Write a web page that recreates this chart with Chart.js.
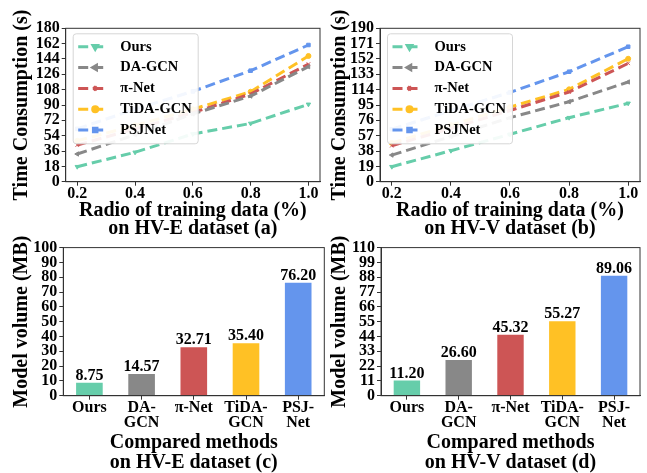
<!DOCTYPE html>
<html>
<head>
<meta charset="utf-8">
<script src="https://cdn.jsdelivr.net/npm/chart.js@4.4.1/dist/chart.umd.min.js"></script>
<style>
  html, body { margin: 0; padding: 0; background: #fff; }
  body { width: 647px; height: 473px; position: relative; overflow: hidden; }
  canvas { position: absolute; }
</style>
</head>
<body>
<canvas id="chartA" width="325" height="240" style="left:0;top:0"></canvas>
<canvas id="chartB" width="322" height="240" style="left:325px;top:0"></canvas>
<canvas id="chartC" width="325" height="237" style="left:0;top:236px"></canvas>
<canvas id="chartD" width="322" height="237" style="left:325px;top:236px"></canvas>
<script>
const methods = ["Ours", "DA-GCN", "π-Net", "TiDA-GCN", "PSJNet"];
const methodTicks = [["Ours"], ["DA-", "GCN"], ["π-Net"], ["TiDA-", "GCN"], ["PSJ-", "Net"]];
const ratios = [0.2, 0.4, 0.6, 0.8, 1.0];

// time consumption (s), HV-E
const timeE_ours = [17.6, 34.5, 56, 68.4, 90.8];
const timeE_dagcn = [32.5, 55, 79.5, 100.5, 135];
const timeE_pinet = [43, 62, 81, 102.9, 138];
const timeE_tida = [48, 66, 85, 105.6, 147.5];
const timeE_psj = [62, 85, 106, 130.3, 160.4];

// time consumption (s), HV-V
const timeV_ours = [18.6, 38.4, 58.7, 79.3, 97.1];
const timeV_dagcn = [33, 56, 79.3, 99.1, 123.5];
const timeV_pinet = [44.6, 66, 88.2, 111.1, 146.6];
const timeV_tida = [48, 70, 92.4, 114.4, 152.3];
const timeV_psj = [65, 88, 110.6, 136.2, 167.2];

// model volume (MB)
const sizeE = [8.75, 14.57, 32.71, 35.40, 76.20];
const sizeV = [11.20, 26.60, 45.32, 55.27, 89.06];

const ticksTimeE = [0, 18, 36, 54, 72, 90, 108, 126, 144, 162, 180];
const ticksTimeV = [0, 19, 38, 57, 76, 95, 114, 133, 152, 171, 190];
const ticksSizeE = [0, 10, 20, 30, 40, 50, 60, 70, 80, 90, 100];
const ticksSizeV = [0, 11, 22, 33, 44, 55, 66, 77, 88, 99, 110];

const colors = ["#66cdaa", "#888888", "#cd5555", "#ffc125", "#6495ed"];
const markers = [
  { style: "triangle", rot: 180 },
  { style: "triangle", rot: -90 },
  { style: "crossRot", rot: 0 },
  { style: "circle", rot: 0 },
  { style: "rect", rot: 0 },
];

const FONT = "'Liberation Serif', 'Times New Roman', serif";
Chart.defaults.font.family = FONT;
Chart.defaults.font.weight = "bold";
Chart.defaults.color = "#000";
Chart.defaults.animation = false;

// full box round the plot area, like matplotlib spines
const frame = {
  id: "frame",
  afterDraw(chart) {
    const { ctx, chartArea: a } = chart;
    ctx.save();
    ctx.strokeStyle = "#333";
    ctx.lineWidth = 1;
    ctx.strokeRect(a.left, a.top, a.right - a.left, a.bottom - a.top);
    ctx.restore();
  },
};

// legend box in upper left corner of the plot
const boxLegend = {
  id: "boxLegend",
  afterDatasetsDraw(chart, args, opts) {
    if (!opts.show) return;
    const { ctx, chartArea } = chart;
    const x0 = chartArea.left + 7.5;
    const y0 = chartArea.top + 5.5;
    ctx.save();
    ctx.beginPath();
    ctx.roundRect(x0, y0, 125, 110, 3);
    ctx.fillStyle = "rgba(255,255,255,0.92)";
    ctx.fill();
    ctx.strokeStyle = "#d6d6d6";
    ctx.lineWidth = 1;
    ctx.stroke();
    chart.data.datasets.forEach((ds, i) => {
      const y = y0 + 13 + i * 20.8;
      ctx.strokeStyle = ds.borderColor;
      ctx.fillStyle = ds.borderColor;
      ctx.lineWidth = 3;
      ctx.setLineDash([10, 5]);
      ctx.beginPath();
      ctx.moveTo(x0 + 5, y);
      ctx.lineTo(x0 + 32, y);
      ctx.stroke();
      ctx.setLineDash([]);
      Chart.helpers.drawPoint(ctx, {
        pointStyle: ds.pointStyle, rotation: ds.rotation,
        radius: 2.5, borderWidth: 1,
      }, x0 + 22, y);
      ctx.fillStyle = "#000";
      ctx.font = "bold 14.5px " + FONT;
      ctx.textAlign = "left";
      ctx.textBaseline = "middle";
      ctx.fillText(ds.label, x0 + 47, y);
    });
    ctx.restore();
  },
};

// numbers above the bars
const barValues = {
  id: "barValues",
  afterDatasetsDraw(chart) {
    const { ctx } = chart;
    const ds = chart.data.datasets[0];
    ctx.save();
    ctx.font = "bold 16px " + FONT;
    ctx.fillStyle = "#000";
    ctx.textAlign = "center";
    ctx.textBaseline = "alphabetic";
    chart.getDatasetMeta(0).data.forEach((bar, i) => {
      ctx.fillText(ds.data[i].toFixed(2), bar.x, bar.y - 3);
    });
    ctx.restore();
  },
};

function axisStyle() {
  return {
    grid: { drawOnChartArea: false, drawTicks: true, tickLength: 4, color: "#333", offset: false },
    border: { display: true, color: "#333" },
  };
}

function lineChart(id, series, yTicks, yMax, dataset, box) {
  const datasets = series.map((vals, i) => ({
    label: methods[i],
    data: ratios.map((r, j) => ({ x: r, y: vals[j] })),
    borderColor: colors[i],
    backgroundColor: colors[i],
    borderWidth: 3,
    borderDash: [10, 5],
    pointStyle: markers[i].style,
    rotation: markers[i].rot,
    pointRadius: 2.5,
    pointBorderWidth: 1,
    tension: 0,
  }));
  return new Chart(document.getElementById(id), {
    type: "line",
    data: { datasets },
    options: {
      responsive: false,
      layout: { padding: { left: 0, top: box.top, right: box.right, bottom: 0 } },
      plugins: { legend: { display: false }, tooltip: { enabled: false }, boxLegend: { show: true } },
      scales: {
        x: {
          type: "linear", min: 0.16, max: 1.04,
          ...axisStyle(),
          afterBuildTicks: s => { s.ticks = ratios.map(v => ({ value: v })); },
          afterFit: s => { s.height = box.xh; },
          ticks: { font: { size: 16, lineHeight: 1 }, padding: 0, autoSkip: false, callback: v => v.toFixed(1) },
          title: {
            display: true,
            text: ["Radio of training data (%)", "on " + dataset],
            font: { size: 20, lineHeight: 0.925 },
            padding: { top: 0, bottom: 1.75 },
          },
        },
        y: {
          min: 0, max: yMax,
          ...axisStyle(),
          afterBuildTicks: s => { s.ticks = yTicks.map(v => ({ value: v })); },
          afterFit: s => { s.width = box.yw; },
          ticks: { font: { size: 16 }, padding: 2, autoSkip: false },
          title: {
            display: true, text: "Time Consumption (s)",
            font: { size: 20, lineHeight: 1 },
            padding: { top: box.tp, bottom: 0 },
          },
        },
      },
    },
    plugins: [frame, boxLegend],
  });
}

function barChart(id, vals, yTicks, yMax, dataset, box) {
  return new Chart(document.getElementById(id), {
    type: "bar",
    data: {
      labels: methodTicks,
      datasets: [{
        data: vals,
        backgroundColor: colors,
        categoryPercentage: 1,
        barPercentage: 0.51,
      }],
    },
    options: {
      responsive: false,
      layout: { padding: { left: 0, top: box.top, right: box.right, bottom: 0 } },
      plugins: { legend: { display: false }, tooltip: { enabled: false } },
      scales: {
        x: {
          ...axisStyle(),
          afterFit: s => { s.height = box.xh; },
          ticks: { font: { size: 16, lineHeight: 0.97 }, padding: 0, maxRotation: 0, autoSkip: false },
          title: {
            display: true,
            text: ["Compared methods", "on " + dataset],
            font: { size: 20, lineHeight: 0.96 },
            padding: { top: 0, bottom: 0.9 },
          },
        },
        y: {
          min: 0, max: yMax,
          ...axisStyle(),
          afterBuildTicks: s => { s.ticks = yTicks.map(v => ({ value: v })); },
          afterFit: s => { s.width = box.yw; },
          ticks: { font: { size: 16 }, padding: 2, autoSkip: false },
          title: {
            display: true, text: "Model volume (MB)",
            font: { size: 20, lineHeight: 1 },
            padding: { top: box.tp, bottom: 0 },
          },
        },
      },
    },
    plugins: [frame, barValues],
  });
}

lineChart("chartA", [timeE_ours, timeE_dagcn, timeE_pinet, timeE_tida, timeE_psj],
  ticksTimeE, 180, "HV-E dataset (a)", { top: 28.3, right: 0.7, xh: 58.3, yw: 65.7, tp: 11.6 });
lineChart("chartB", [timeV_ours, timeV_dagcn, timeV_pinet, timeV_tida, timeV_psj],
  ticksTimeV, 190, "HV-V dataset (b)", { top: 28.3, right: 7, xh: 58.3, yw: 55, tp: 4.5 });
barChart("chartC", sizeE, ticksSizeE, 100, "HV-E dataset (c)",
  { top: 7.3, right: 0.7, xh: 77.3, yw: 63.3, tp: 12.3 });
barChart("chartD", sizeV, ticksSizeV, 110, "HV-V dataset (d)",
  { top: 7.3, right: 7, xh: 77.3, yw: 56, tp: 5 });
</script>
</body>
</html>
